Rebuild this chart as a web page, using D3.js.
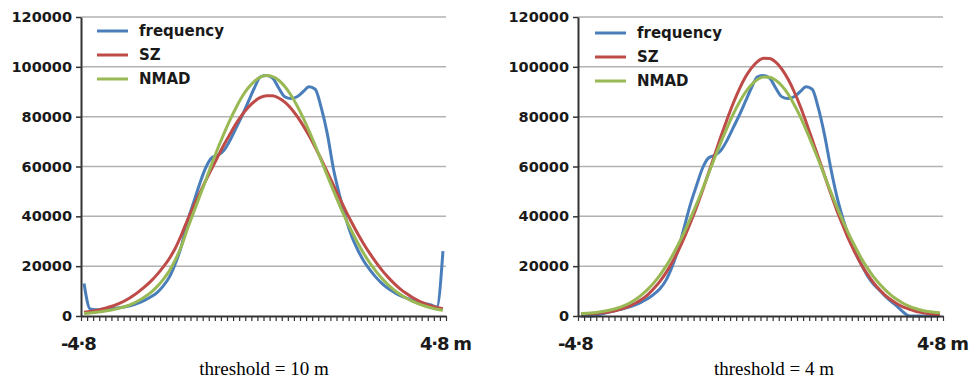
<!DOCTYPE html>
<html>
<head>
<meta charset="utf-8">
<script src="https://cdn.jsdelivr.net/npm/d3@7"></script>
<style>
  body { margin: 0; background: #fff; }
  .tick text { font-family: "DejaVu Sans", sans-serif; font-weight: bold; font-size: 14.5px; fill: #1a1a1a; }
</style>
</head>
<body>
<svg id="chart" width="978" height="380"></svg>
<script>
// values (60 bins from -4.8 m to 4.8 m)
const seriesNames = ['frequency', 'SZ', 'NMAD'];
const yTicks = [0, 20000, 40000, 60000, 80000, 100000, 120000];
const xEndLabels = ['-4·8', '4·8 m'];
const captions = ['threshold = 10 m', 'threshold = 4 m'];

const freq10 = [13000, 2800, 2500, 2700, 2900, 3100, 3400, 3800, 4400, 5300, 6400, 7700, 9400, 12000, 15500, 21000, 28000, 38000, 45500, 53000,
  59500, 63500, 64500, 66500, 70500, 75500, 80500, 86000, 91500, 96000, 96500, 95500, 91500, 88000, 87300, 88000, 90000, 92000, 91000, 83500,
  73000, 59000, 48500, 39500, 32000, 26500, 22000, 18500, 15500, 13000, 11000, 9500, 8200, 7200, 6300, 5600, 5000, 4400, 3600, 26000];
const sz10 = [1500, 1800, 2200, 2800, 3500, 4300, 5300, 6500, 8000, 9800, 11800, 14000, 16600, 19600, 23000, 27200, 32500, 38500, 44000, 49200,
  54300, 59200, 64000, 68700, 73000, 77200, 80800, 83800, 86100, 87700, 88400, 88350, 87500, 85800, 83400, 80200, 76500, 72300, 67700, 62800,
  57700, 52500, 47400, 42300, 37500, 33000, 28800, 25000, 21500, 18300, 15500, 13000, 10800, 9000, 7400, 6100, 5000, 4100, 3400, 2900];
const nmad10 = [1000, 1200, 1500, 1800, 2200, 2700, 3300, 4000, 5000, 6200, 7700, 9500, 11800, 14600, 18000, 22500, 28000, 35000, 41500, 48000,
  54500, 61000, 67300, 73200, 78700, 83700, 88100, 91600, 94200, 95900, 96500, 96050, 94600, 92100, 88700, 84500, 79600, 74200, 68400, 62400,
  56300, 50300, 44500, 39000, 34000, 29300, 25000, 21200, 17900, 15000, 12500, 10400, 8600, 7100, 5900, 4900, 4000, 3300, 2700, 2300];

const freq4 = [0, 0, 0, 600, 1200, 1800, 2400, 3000, 3700, 4600, 5700, 7000, 8800, 11000, 14500, 20000, 27000, 36000, 45000, 52500,
  59500, 63500, 64500, 66500, 70500, 75500, 80500, 86000, 91500, 96000, 96500, 95500, 91500, 88000, 87300, 88000, 90000, 92000, 91000, 83500,
  73000, 60000, 48500, 39500, 32000, 26000, 21000, 16500, 13000, 10500, 8000, 5800, 3800, 1500, 0, 0, 0, 0, 0, 0];
const sz4 = [800, 900, 1000, 1200, 1400, 1800, 2400, 3100, 4000, 5200, 6700, 8600, 11100, 14000, 17500, 21600, 26300, 31600, 37500, 43800,
  50600, 57700, 64900, 72100, 78900, 85300, 91000, 95800, 99500, 102100, 103400, 103300, 101850, 99100, 95200, 90200, 84400, 77800, 70800, 63800,
  56600, 49500, 42700, 36600, 30700, 25600, 21000, 17000, 13600, 10700, 8300, 6400, 4800, 3600, 2700, 1900, 1400, 1000, 700, 500];
const nmad4 = [1000, 1100, 1300, 1600, 2000, 2500, 3200, 4100, 5200, 6700, 8600, 10800, 13400, 16500, 20100, 24200, 28800, 33800, 39300, 45000,
  51100, 57400, 63700, 69800, 75500, 80900, 85700, 89700, 92800, 94900, 95900, 95800, 94600, 92400, 89200, 85000, 80200, 74700, 68900, 62800,
  56500, 50200, 44100, 38400, 33000, 28100, 23500, 19500, 16000, 13000, 10500, 8300, 6500, 5000, 3900, 3000, 2300, 1800, 1500, 1300];

const colors = ['#4a7ebb', '#be4b48', '#98b954'];

const svg = d3.select('#chart');
svg.append('rect').attr('width', 978).attr('height', 380).style('fill', '#fff');

const panels = [
  { x0: 81, x1: 446, series: [freq10, sz10, nmad10], caption: captions[0], legendX: 97, legendY: 31, capX: 264 },
  { x0: 578, x1: 943, series: [freq4, sz4, nmad4], caption: captions[1], legendX: 595, legendY: 33, capX: 774 }
];

const y = d3.scaleLinear().domain([0, 120000]).range([316, 17]);

panels.forEach(p => {
  const nBins = p.series[0].length;
  const x = d3.scaleLinear().domain([0, nBins]).range([p.x0, p.x1]);
  const g = svg.append('g');

  // grid
  g.selectAll('.grid')
    .data(yTicks.filter(d => d > 0))
    .enter()
    .append('line')
    .attr('x1', p.x0).attr('x2', p.x1)
    .attr('y1', d => y(d)).attr('y2', d => y(d))
    .style('stroke', '#b2b2b2')
    .style('stroke-width', 1.5);

  // series
  const line = d3.line()
    .x((d, i) => x(i + 0.5))
    .y(d => y(d))
    .curve(d3.curveMonotoneX);

  p.series.forEach((s, k) => {
    g.append('path')
      .datum(s)
      .attr('d', line)
      .style('fill', 'none')
      .style('stroke', colors[k])
      .style('stroke-width', 3)
      .style('stroke-linejoin', 'round');
  });

  // y axis
  const ya = g.append('g')
    .attr('transform', `translate(${p.x0},0)`)
    .call(d3.axisLeft(y).tickValues(yTicks).tickSize(5).tickSizeOuter(0).tickPadding(4).tickFormat(d3.format('d')));
  ya.select('.domain').style('stroke', '#333').style('stroke-width', 2);
  ya.selectAll('.tick line').style('stroke', '#333').style('stroke-width', 1.5);

  // x axis
  const xa = g.append('g')
    .attr('transform', `translate(0,${y(0)})`)
    .call(d3.axisBottom(x).tickValues(d3.range(nBins + 1)).tickSize(5).tickSizeOuter(0).tickFormat(''));
  xa.select('.domain').style('stroke', '#333').style('stroke-width', 2);
  xa.selectAll('.tick line').style('stroke', '#333').style('stroke-width', 1.2);

  // end labels
  g.append('text')
    .attr('x', p.x0 - 20)
    .attr('y', 350)
    .text(xEndLabels[0])
    .style('font-family', 'DejaVu Sans, sans-serif')
    .style('font-weight', 'bold')
    .style('font-size', '18px')
    .style('letter-spacing', '-1.2px')
    .style('fill', '#1a1a1a');
  g.append('text')
    .attr('x', p.x1 - 26)
    .attr('y', 350)
    .text(xEndLabels[1])
    .style('font-family', 'DejaVu Sans, sans-serif')
    .style('font-weight', 'bold')
    .style('font-size', '18px')
    .style('letter-spacing', '-1.2px')
    .style('fill', '#1a1a1a');

  // legend
  const leg = g.selectAll('.leg')
    .data(seriesNames)
    .enter()
    .append('g')
    .attr('transform', (d, i) => `translate(${p.legendX},${p.legendY + i * 24})`);
  leg.append('line')
    .attr('x1', 0).attr('x2', 31)
    .style('stroke', (d, i) => colors[i])
    .style('stroke-width', 3);
  leg.append('text')
    .attr('x', 42)
    .attr('y', 5)
    .text(d => d)
    .style('font-family', 'DejaVu Sans, sans-serif')
    .style('font-weight', 'bold')
    .style('font-size', '15px')
    .style('fill', '#1a1a1a');

  // caption
  g.append('text')
    .attr('x', p.capX)
    .attr('y', 375)
    .attr('text-anchor', 'middle')
    .text(p.caption)
    .style('font-family', 'Liberation Serif, serif')
    .style('font-size', '19px')
    .style('fill', '#000');
});
</script>
</body>
</html>
